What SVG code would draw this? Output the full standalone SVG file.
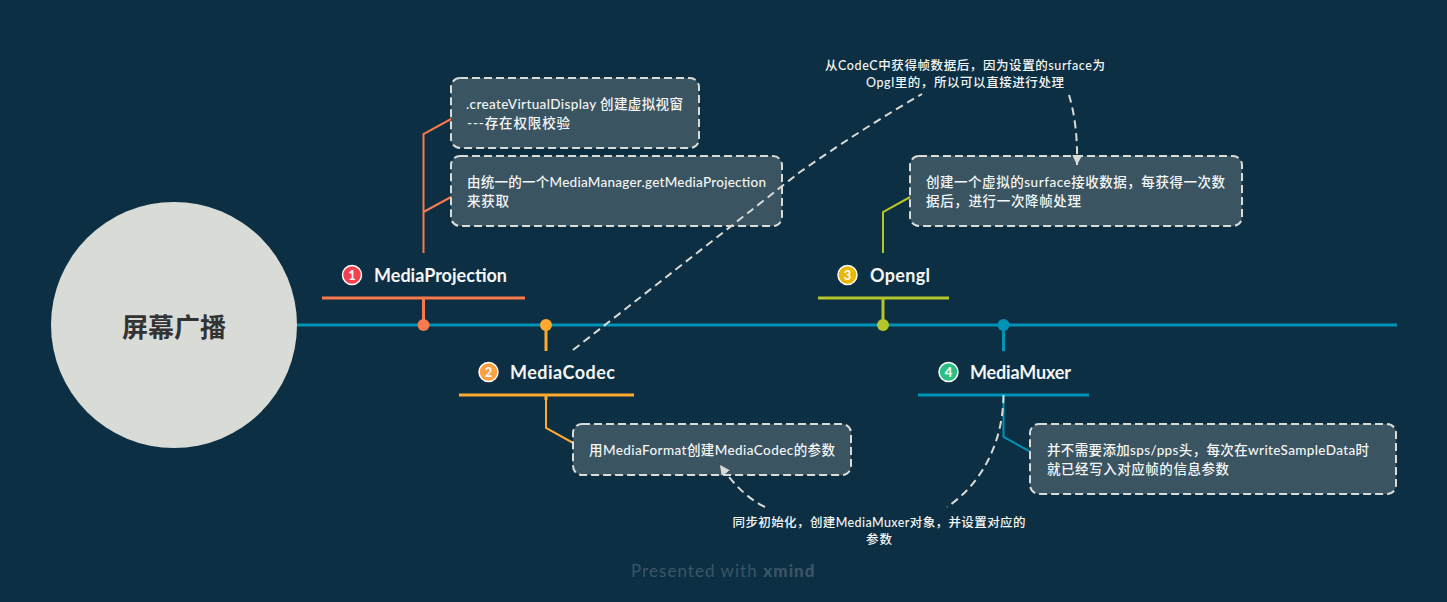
<svg xmlns="http://www.w3.org/2000/svg" width="1447" height="602" viewBox="0 0 1447 602">
<style>
text{font-family:"Lato","Noto Sans CJK SC",sans-serif;fill:#f4f6f5}
.box{fill:#3a5462;stroke:#d9dbd6;stroke-width:2;stroke-dasharray:8 4}
.t{font-size:13.5px;font-weight:500}
.f{font-size:12.5px;font-weight:500;text-anchor:middle}
.h{font-size:18px;font-weight:700}
.n{font-size:13px;font-weight:900;text-anchor:middle}
.b{stroke:#fff;stroke-width:1.5}
.rel{fill:none;stroke:#d9dbd6;stroke-width:2;stroke-dasharray:8 5}
.l{fill:none;stroke-width:2}
.s{fill:none;stroke-width:3}
</style>
<defs>
<marker id="arr" markerUnits="userSpaceOnUse" markerWidth="12" markerHeight="12" refX="10" refY="5" orient="auto"><path d="M0 0L10 5L0 10Z" fill="#d9dbd6"/></marker>
</defs>
<rect width="1447" height="602" fill="#0c2f43"/>
<g id="connectors">
<path d="M297 325H1397" fill="none" stroke="#0093b5" stroke-width="3"/>
<path class="s" stroke="#f9794f" d="M423.500 298V325"/>
<path class="l" stroke="#f9794f" stroke-width="2.500" d="M423.500 253V134L462 113M423.500 212L462 191"/>
<path class="s" stroke="#ffa92e" d="M546 325V351M546 395V400"/>
<path class="l" stroke="#ffa92e" d="M546 396V428L584 449"/>
<path class="s" stroke="#b5c62a" d="M883 298V325"/>
<path class="l" stroke="#b5c62a" d="M883 253V212L921 191"/>
<path class="s" stroke="#0093b5" d="M1003.500 325V351"/>
<path class="l" stroke="#0093b5" d="M1003.500 396V437L1042 458"/>
</g>
<g id="root"><circle cx="174" cy="325" r="123" fill="#d9dbd6"/><text x="174" y="337" text-anchor="middle" style="font-size:26px;font-weight:700;fill:#333">屏幕广播</text></g>
<g id="topic1">
<path class="s" stroke="#f9794f" d="M322 298H525"/><circle cx="423.500" cy="325" r="6" fill="#f9794f"/>
<circle class="b" cx="352" cy="275" r="9.500" fill="#f6404f"/><text class="n" x="352" y="280">1</text>
<text class="h" x="374" y="282" textLength="133">MediaProjection</text>
</g>
<g id="topic2">
<path class="s" stroke="#ffa92e" d="M459 395H634"/><circle cx="546" cy="325" r="6" fill="#ffa92e"/>
<circle class="b" cx="488.500" cy="372" r="9.500" fill="#ff9f40"/><text class="n" x="488.500" y="377">2</text>
<text class="h" x="510" y="379" textLength="105">MediaCodec</text>
</g>
<g id="topic3">
<path class="s" stroke="#b5c62a" d="M818 298H949"/><circle cx="883" cy="325" r="6" fill="#b5c62a"/>
<circle class="b" cx="847.500" cy="275" r="9.500" fill="#e8b900"/><text class="n" x="847.500" y="280">3</text>
<text class="h" x="870" y="282" textLength="60">Opengl</text>
</g>
<g id="topic4">
<path class="s" stroke="#0093b5" d="M918 395H1089"/><circle cx="1003.500" cy="325" r="6" fill="#0093b5"/>
<circle class="b" cx="948.500" cy="372" r="9.500" fill="#2bbf84"/><text class="n" x="948.500" y="377">4</text>
<text class="h" x="970" y="379" textLength="101">MediaMuxer</text>
</g>
<g id="note1"><rect class="box" x="451" y="78" width="248" height="70" rx="9"/>
<text class="t" x="466" y="109" textLength="217">.createVirtualDisplay 创建虚拟视窗</text><text class="t" x="467" y="128" textLength="103">---存在权限校验</text></g>
<g id="note2"><rect class="box" x="451" y="156" width="331" height="70" rx="9"/>
<text class="t" x="467" y="187" textLength="299">由统一的一个MediaManager.getMediaProjection</text><text class="t" x="467" y="206" textLength="42">来获取</text></g>
<g id="note3"><rect class="box" x="910" y="156" width="332" height="70" rx="9"/>
<text class="t" x="926" y="187" textLength="299">创建一个虚拟的surface接收数据，每获得一次数</text><text class="t" x="926" y="206" textLength="155">据后，进行一次降帧处理</text></g>
<g id="note4"><rect class="box" x="573" y="424" width="278" height="51" rx="9"/>
<text class="t" x="589" y="455" textLength="246">用MediaFormat创建MediaCodec的参数</text></g>
<g id="note5"><rect class="box" x="1030" y="424" width="366" height="70" rx="9"/>
<text class="t" x="1047" y="455" textLength="322">并不需要添加sps/pps头，每次在writeSampleData时</text><text class="t" x="1047" y="474" textLength="182">就已经写入对应帧的信息参数</text></g>
<g id="relations">
<path class="rel" d="M573 350Q720 235 800 172Q860 130 922 94"/>
<path class="rel" d="M1069 95Q1078 125 1077 165" marker-end="url(#arr)"/>
<path class="rel" d="M1003.500 395C1003 445 980 485 947 507"/>
<path class="rel" d="M765 507C745 497 732 482 720 465" marker-end="url(#arr)"/>
</g>
<g id="label1"><text class="f" x="965" y="70" textLength="280">从CodeC中获得帧数据后，因为设置的surface为</text><text class="f" x="965" y="87" textLength="198">Opgl里的，所以可以直接进行处理</text></g>
<g id="label2"><text class="f" x="879" y="527" textLength="293">同步初始化，创建MediaMuxer对象，并设置对应的</text><text class="f" x="879" y="544" textLength="26">参数</text></g>
<text x="723" y="577" text-anchor="middle" textLength="184" style="font-size:17px;fill:#3b5566;letter-spacing:.5px">Presented with <tspan font-weight="900">xmind</tspan></text>
</svg>
